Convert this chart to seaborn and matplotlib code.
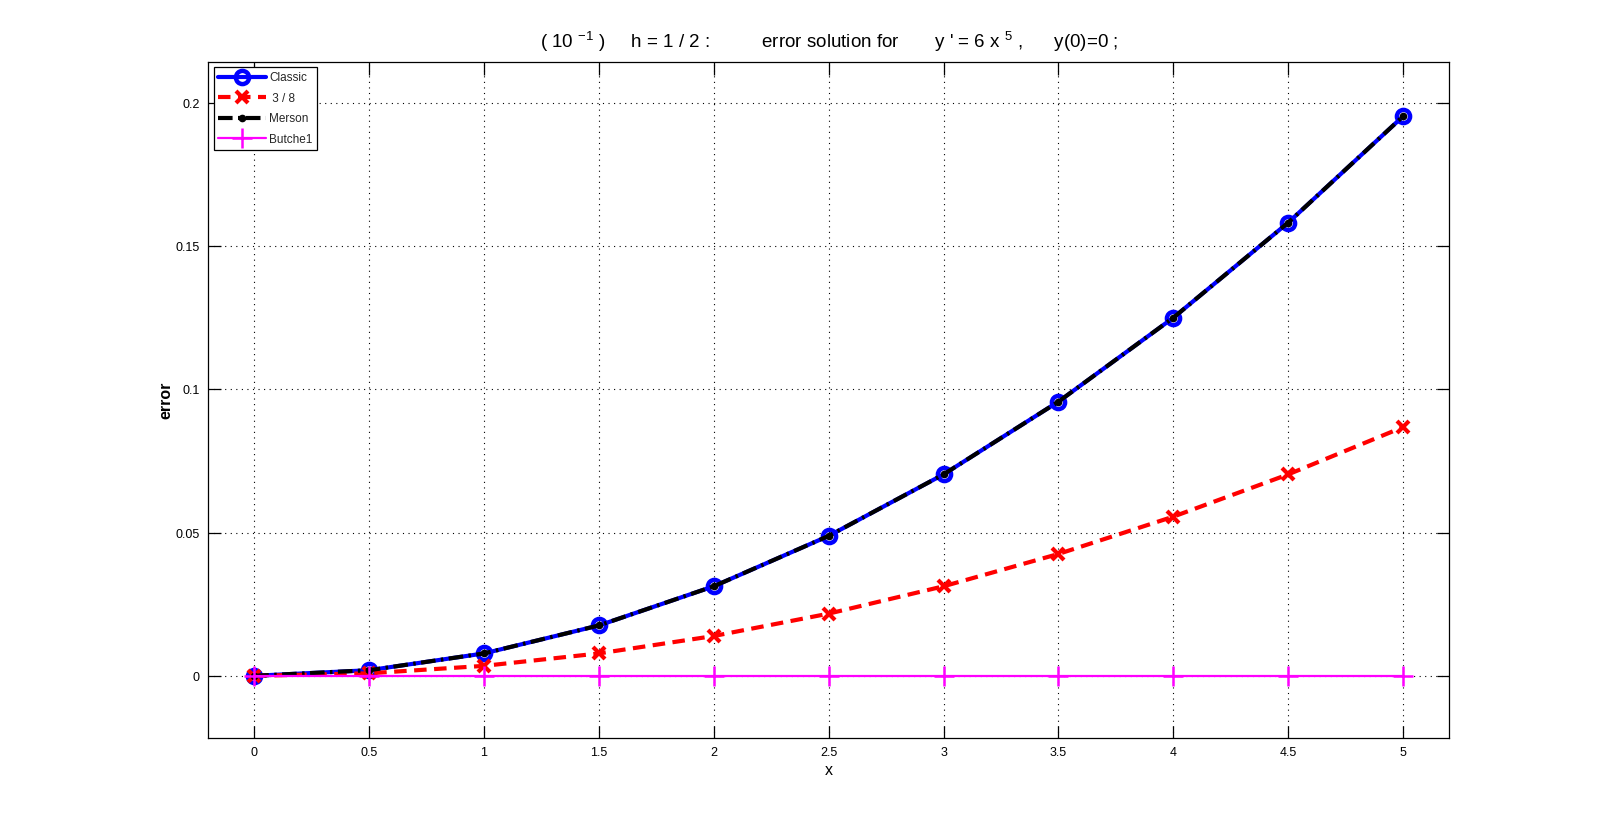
import matplotlib
matplotlib.use("Agg")
import matplotlib.pyplot as plt
import seaborn as sns
import numpy as np

# ---- data ----
x_vals = [0, 0.5, 1, 1.5, 2, 2.5, 3, 3.5, 4, 4.5, 5]
classic = [0, 0.00195, 0.00781, 0.01758, 0.03125, 0.04883, 0.07031, 0.09570, 0.12500, 0.15820, 0.19531]
three_eighths = [0, 0.00087, 0.00347, 0.00781, 0.01389, 0.02170, 0.03125, 0.04253, 0.05556, 0.07031, 0.08681]
merson = [0, 0.00195, 0.00781, 0.01758, 0.03125, 0.04883, 0.07031, 0.09570, 0.12500, 0.15820, 0.19531]
butcher1 = [0, 0, 0, 0, 0, 0, 0, 0, 0, 0, 0]
labels = ["Classic", " 3 / 8", "Merson", "Butche1"]
x_ticks = [0, 0.5, 1, 1.5, 2, 2.5, 3, 3.5, 4, 4.5, 5]
x_tick_labels = ["0", "0.5", "1", "1.5", "2", "2.5", "3", "3.5", "4", "4.5", "5"]
y_ticks = [0, 0.05, 0.1, 0.15, 0.2]
y_tick_labels = ["0", "0.05", "0.1", "0.15", "0.2"]

sns.set_theme(style="ticks")
plt.rcParams["font.family"] = ["Liberation Sans", "DejaVu Sans"]
plt.rcParams["mathtext.default"] = "regular"

fig = plt.figure(figsize=(16.01, 8.295), dpi=100)
fig.patch.set_facecolor("white")
ax = fig.add_axes([0.1301, 0.1094, 0.7750, 0.8154])
ax.set_facecolor("white")

sns.lineplot(x=x_vals, y=classic, ax=ax, color="#0000ff", linewidth=3.0,
             linestyle="-", marker="o", markersize=9.5, markerfacecolor="none",
             markeredgecolor="#0000ff", markeredgewidth=3.2, legend=False)
sns.lineplot(x=x_vals, y=three_eighths, ax=ax, color="#ff0000", linewidth=3.0,
             linestyle=(0, (3, 1.8)), marker="x", markersize=8,
             markeredgecolor="#ff0000", markeredgewidth=3.0, legend=False)
sns.lineplot(x=x_vals, y=merson, ax=ax, color="black", linewidth=3.0,
             linestyle=(0, (3.5, 1.3, 0.6, 1.3)), marker=".", markersize=9,
             markerfacecolor="black", markeredgecolor="black", markeredgewidth=1.0,
             legend=False)
sns.lineplot(x=x_vals, y=butcher1, ax=ax, color="#ff00ff", linewidth=1.6,
             linestyle="-", marker="+", markersize=14,
             markeredgecolor="#ff00ff", markeredgewidth=1.8, legend=False)

ax.set_xlim(-0.2, 5.2)
ax.set_ylim(-0.0218, 0.2143)
ax.set_xticks(x_ticks)
ax.set_xticklabels(x_tick_labels)
ax.set_yticks(y_ticks)
ax.set_yticklabels(y_tick_labels)

ax.grid(True, color="black", linestyle=(0, (1, 4)), linewidth=0.8)
for s in ax.spines.values():
    s.set_visible(True)
    s.set_color("black")
    s.set_linewidth(0.9)
ax.tick_params(direction="in", length=9, width=0.9, colors="black",
               labelsize=9, top=True, right=True, pad=6)
for lab in ax.get_xticklabels() + ax.get_yticklabels():
    lab.set_color("black")

ax.set_xlabel("x", fontsize=11.5, labelpad=3, color="black")
ax.set_ylabel("error", fontsize=11.5, fontweight="bold", labelpad=2, color="black")
ax.set_title("( 10 $^{-1}$ )     h = 1 / 2 :          error solution for       y ' = 6 x $^{5}$ ,      y(0)=0 ;",
             fontsize=13.5, pad=10, color="black")

handles = ax.get_lines()[:4]
leg = ax.legend(handles, labels, loc="upper left", fontsize=8.5,
                handlelength=4.0, handletextpad=0.3, labelspacing=0.72,
                borderpad=0.4, borderaxespad=0.45, fancybox=False,
                frameon=True, edgecolor="black", framealpha=1.0, numpoints=1)
leg.get_frame().set_linewidth(0.9)

fig.savefig("out.png", dpi=100, facecolor="white")
